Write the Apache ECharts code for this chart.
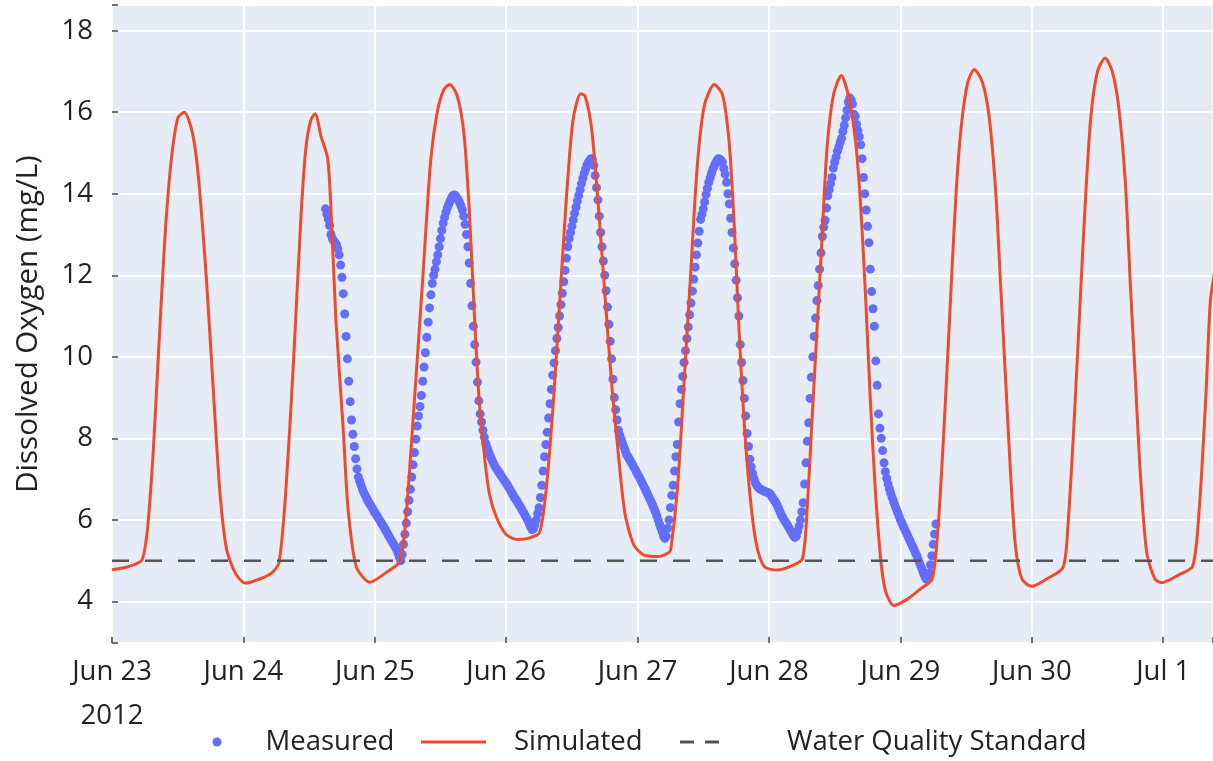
<!DOCTYPE html>
<html>
<head>
<meta charset="utf-8">
<script src="https://cdn.jsdelivr.net/npm/echarts@6.0.0/dist/echarts.min.js"></script>
<style>
  html, body { margin: 0; padding: 0; background: #fff; }
  #chart { width: 1213px; height: 761px; }
</style>
</head>
<body>
<div id="chart"></div>
<script>
// x axis is hours after Jun 23 2012 00:00
const dayLabels = ["Jun 23", "Jun 24", "Jun 25", "Jun 26", "Jun 27", "Jun 28", "Jun 29", "Jun 30", "Jul 1"];
const yearLabel = "2012";
const xMaxHour = 201.1;

// simulated DO
const simHours = [
  0, 2, 4, 5.5, 6.5, 7.5, 8.3, 9.1, 9.8, 10.8, 12, 13.2, 14.5, 15.3, 16, 17.2, 18.5, 19.7, 20.9, 22.5,
  24.3, 27, 29.2, 30.5, 31.7, 33.2, 34.5, 35.4, 36.3, 37.1, 38.2, 39.4, 40, 40.9, 42.2, 43.1, 44.6, 47.1,
  50, 52.5, 53.6, 55.2, 56.7, 58.2, 59.4, 60.6, 61.7, 63.1, 64.3, 65.3, 66.2, 67.1, 68, 68.9, 70.2,
  72, 74.1, 76.3, 78.1, 79.3, 80.6, 81.8, 83, 84.2, 85.6, 86.4, 87.6, 88.8, 90.1, 91.3, 92.5, 93.7, 95.3,
  97.1, 99.6, 101.7, 102.1, 103.3, 104.5, 105.7, 106.9, 108.2, 110, 111.5, 112.7, 113.6, 114.5, 115.4,
  116.4, 117.6, 119.1, 121.5, 123.9, 126.1, 127, 127.9, 128.8, 129.7, 130.6, 131.8, 133.2, 134.6, 135.8,
  136.7, 137.6, 138.5, 139.4, 140.4, 141.3, 142.8, 145.2, 147.6, 149.8, 150.9, 152.1, 153.3, 154.2,
  155.1, 156.3, 157.5, 159, 160.2, 161.4, 162.3, 163.2, 164.1, 165, 166.2, 168, 170.7, 173.7, 174.6,
  175.8, 177, 177.9, 178.8, 180, 181.4, 182.7, 183.9, 185.1, 186, 186.9, 187.8, 189, 190.5, 191.7,
  194.7, 197.4, 198.6, 199.8, 200.6, 201.4
];
const simValues = [
  4.78, 4.82, 4.9, 5.02, 5.8, 7.6, 9.6, 11.6, 13.2, 14.8, 15.85, 16.0, 15.6, 15.0, 14.1, 12.0, 9.2, 6.7, 5.3, 4.7,
  4.45, 4.55, 4.7, 4.95, 6.6, 10.0, 13.4, 15.1, 15.8, 15.96, 15.4, 14.86, 13.6, 10.9, 8.3, 6.3, 4.86, 4.47,
  4.7, 4.97, 5.9, 8.86, 11.8, 14.8, 16.0, 16.55, 16.68, 16.38, 15.45, 13.5, 11.0, 8.86, 7.6, 6.66, 6.07,
  5.64, 5.52, 5.56, 5.69, 6.74, 8.86, 11.4, 13.9, 15.8, 16.45, 16.4, 15.6, 13.76, 11.4, 9.28, 7.59, 6.15, 5.39,
  5.14, 5.1, 5.2, 5.3, 6.8, 9.4, 12.05, 14.68, 16.17, 16.68, 16.44, 15.3, 13.37, 10.74, 8.54,
  6.79, 5.47, 4.86, 4.77, 4.86, 5.04, 6.35, 8.54, 10.74, 12.93, 15.12, 16.44, 16.9, 16.35, 15.3,
  13.8, 11.6, 8.98, 6.79, 5.04, 4.25, 3.9, 4.05, 4.3, 4.55, 5.84, 8.58, 11.79, 14.08,
  15.63, 16.73, 17.05, 16.73, 15.9, 14.08, 11.79, 9.5, 7.2, 5.38, 4.55, 4.37, 4.55, 4.83, 5.84,
  8.58, 11.79, 14.08, 15.9, 17.0, 17.33, 17.0, 16.1, 14.26, 11.79, 9.5, 7.2, 5.19, 4.55, 4.46,
  4.64, 4.87, 6.29, 9.04, 11.33, 12.1
];

// measured DO, logged every 15 min from Jun 24 15:00
const measuredStartHour = 39;
const measuredStepHours = 0.25;
const measuredValues = [
  13.63, 13.5, 13.38, 13.22, 13.0, 12.9, 12.85, 12.8, 12.75, 12.65, 12.5, 12.25,
  11.95, 11.55, 11.05, 10.5, 9.95, 9.4, 8.9, 8.45, 8.1, 7.8, 7.5, 7.25,
  7.05, 6.95, 6.85, 6.75, 6.67, 6.6, 6.53, 6.47, 6.41, 6.36, 6.3, 6.24,
  6.18, 6.13, 6.08, 6.02, 5.97, 5.91, 5.86, 5.8, 5.74, 5.68, 5.62, 5.56,
  5.5, 5.45, 5.39, 5.33, 5.27, 5.18, 5.08, 5.0, 5.15, 5.4, 5.65, 5.92,
  6.2, 6.48, 6.75, 7.05, 7.35, 7.65, 7.98, 8.3, 8.55, 8.78, 9.05, 9.4,
  9.75, 10.1, 10.48, 10.85, 11.2, 11.52, 11.8, 12.0, 12.15, 12.33, 12.5, 12.7,
  12.9, 13.1, 13.28, 13.42, 13.55, 13.65, 13.74, 13.82, 13.9, 13.95, 13.97, 13.95,
  13.9, 13.85, 13.78, 13.7, 13.6, 13.45, 13.25, 13.0, 12.7, 12.3, 11.8, 11.25,
  10.75, 10.3, 9.87, 9.38, 8.92, 8.6, 8.4, 8.2, 8.03, 7.88, 7.78, 7.68,
  7.6, 7.52, 7.44, 7.37, 7.3, 7.25, 7.2, 7.15, 7.1, 7.05, 7.0, 6.95,
  6.9, 6.85, 6.79, 6.73, 6.67, 6.61, 6.55, 6.5, 6.45, 6.39, 6.34, 6.28,
  6.22, 6.16, 6.1, 6.04, 5.97, 5.9, 5.82, 5.76, 5.78, 5.88, 6.0, 6.15,
  6.3, 6.55, 6.85, 7.2, 7.55, 7.85, 8.15, 8.5, 8.85, 9.2, 9.55, 9.85,
  10.15, 10.45, 10.72, 11.0, 11.28, 11.56, 11.84, 12.12, 12.42, 12.7, 12.9, 13.05,
  13.2, 13.36, 13.52, 13.67, 13.82, 13.96, 14.1, 14.25, 14.38, 14.5, 14.6, 14.7,
  14.77, 14.82, 14.86, 14.85, 14.7, 14.45, 14.15, 13.85, 13.45, 13.05, 12.7, 12.35,
  12.0, 11.62, 11.22, 10.8, 10.38, 9.95, 9.45, 9.0, 8.7, 8.45, 8.2, 8.08,
  7.98, 7.88, 7.79, 7.7, 7.6, 7.55, 7.49, 7.43, 7.37, 7.31, 7.25, 7.18,
  7.12, 7.06, 7.0, 6.93, 6.86, 6.79, 6.72, 6.65, 6.58, 6.51, 6.44, 6.36,
  6.28, 6.2, 6.1, 6.0, 5.9, 5.8, 5.7, 5.6, 5.55, 5.6, 5.8, 6.0,
  6.3, 6.6, 6.85, 7.2, 7.55, 7.85, 8.4, 8.85, 9.2, 9.52, 9.86, 10.15,
  10.45, 10.73, 11.03, 11.32, 11.61, 11.9, 12.2, 12.5, 12.79, 13.08, 13.37, 13.5,
  13.63, 13.8, 13.98, 14.13, 14.28, 14.39, 14.5, 14.6, 14.68, 14.75, 14.82, 14.86,
  14.85, 14.82, 14.77, 14.62, 14.48, 14.28, 14.0, 13.75, 13.4, 13.05, 12.67, 12.28,
  11.88, 11.45, 11.0, 10.3, 9.86, 9.42, 8.98, 8.55, 8.12, 7.8, 7.49, 7.3,
  7.14, 7.02, 6.92, 6.85, 6.8, 6.77, 6.75, 6.73, 6.71, 6.7, 6.68, 6.67,
  6.66, 6.63, 6.58, 6.52, 6.47, 6.43, 6.36, 6.28, 6.2, 6.12, 6.06, 6.0,
  5.95, 5.9, 5.84, 5.78, 5.72, 5.67, 5.61, 5.57, 5.6, 5.72, 5.85, 6.0,
  6.2, 6.42, 6.88, 7.4, 7.93, 8.38, 8.98, 9.5, 10.0, 10.5, 10.95, 11.38,
  11.75, 12.15, 12.55, 12.95, 13.18, 13.35, 13.65, 13.95, 14.1, 14.25, 14.4, 14.63,
  14.78, 14.9, 15.04, 15.15, 15.26, 15.36, 15.53, 15.68, 15.86, 16.05, 16.25, 16.35,
  16.3, 16.2, 15.95, 15.9, 15.7, 15.55, 15.4, 15.2, 14.86, 14.4, 14.0, 13.6,
  13.2, 12.8, 12.15, 11.6, 11.18, 10.75, 9.9, 9.3, 8.6, 8.25, 8.0, 7.7,
  7.4, 7.18, 7.02, 6.88, 6.76, 6.65, 6.55, 6.45, 6.36, 6.27, 6.18, 6.09,
  6.0, 5.93, 5.85, 5.78, 5.71, 5.64, 5.56, 5.49, 5.41, 5.34, 5.27, 5.19,
  5.12, 5.03, 4.94, 4.86, 4.77, 4.68, 4.6, 4.55, 4.55, 4.7, 4.9, 5.12,
  5.4, 5.65, 5.9
];

const standardValue = 5;

const fontFamily = "Open Sans";
const textColor = "#222";
const fontSize = 27.5;

let chartDiv = document.getElementById("chart");
let chart = echarts.init(chartDiv, null, { renderer: "canvas" });

let legendText = (padLeft) => ({
  fontSize: fontSize,
  color: textColor,
  fontFamily: fontFamily,
  lineHeight: 34,
  padding: [0, 0, 0, padLeft],
});

let option = {
  animation: false,
  textStyle: { fontFamily: fontFamily },
  grid: {
    left: 112,
    right: 0,
    top: 5,
    bottom: 118,
    outerBoundsMode: "none",
    backgroundColor: "#E5ECF6",
    show: true,
    borderWidth: 0,
  },
  legend: [
    {
      data: [{ name: "Measured", icon: "circle" }],
      left: 212.5,
      top: 725,
      padding: 0,
      itemWidth: 9,
      itemHeight: 9,
      textStyle: legendText(39),
    },
    {
      data: [{ name: "Simulated", icon: "rect" }],
      left: 421,
      top: 725,
      padding: 0,
      itemWidth: 65,
      itemHeight: 3,
      textStyle: legendText(23),
    },
    {
      data: [{ name: "Water Quality Standard", icon: "path://M0,0H14V3H0Z M25,0H39V3H25Z" }],
      left: 680,
      top: 725,
      padding: 0,
      itemWidth: 39,
      itemHeight: 3,
      textStyle: legendText(63),
    },
  ],
  xAxis: {
    type: "value",
    min: 0,
    max: xMaxHour,
    interval: 24,
    axisLine: { show: false },
    axisTick: { show: true, inside: true, length: 6, lineStyle: { color: "#444", width: 1.5 } },
    splitLine: { show: true, lineStyle: { color: "#fff", width: 2 } },
    axisLabel: {
      fontSize: fontSize,
      color: textColor,
      fontFamily: fontFamily,
      lineHeight: 44,
      margin: 7,
      formatter: (v) => {
        if (Math.abs(v % 24) > 1e-6) return "";
        let i = Math.round(v / 24);
        return i === 0 ? dayLabels[0] + "\n" + yearLabel : dayLabels[i];
      },
    },
  },
  yAxis: {
    type: "value",
    min: 2.98,
    max: 18.63,
    splitNumber: 8,
    name: "Dissolved Oxygen (mg/L)",
    nameLocation: "middle",
    nameGap: 68,
    nameTextStyle: { fontSize: 29.5, color: textColor, fontFamily: fontFamily },
    axisLine: { show: false },
    axisTick: { show: true, inside: true, length: 6, lineStyle: { color: "#444", width: 1.5 } },
    splitLine: { show: true, lineStyle: { color: "#fff", width: 2 } },
    axisLabel: {
      fontSize: fontSize,
      color: textColor,
      fontFamily: fontFamily,
      margin: 19,
      formatter: (v) => {
        let r = Math.round(v);
        return Math.abs(v - r) < 1e-6 && r % 2 === 0 ? String(r) : "";
      },
    },
  },
  series: [
    {
      name: "Measured",
      type: "scatter",
      z: 2,
      symbol: "circle",
      symbolSize: 9,
      itemStyle: { color: "#636EFA", opacity: 1 },
      data: measuredValues.map((v, i) => [measuredStartHour + i * measuredStepHours, v]),
    },
    {
      name: "Simulated",
      type: "line",
      z: 3,
      symbol: "none",
      showSymbol: false,
      smooth: 0.25,
      lineStyle: { color: "#F04A2D", width: 3 },
      itemStyle: { color: "#F04A2D" },
      data: simHours.map((h, i) => [h, simValues[i]]),
    },
    {
      name: "Water Quality Standard",
      type: "line",
      z: 4,
      symbol: "none",
      showSymbol: false,
      lineStyle: { color: "#555", width: 2.5, type: [17, 16] },
      itemStyle: { color: "#555" },
      data: [
        [0, standardValue],
        [xMaxHour, standardValue],
      ],
    },
  ],
};

chart.setOption(option);
window.onresize = () => {
  chart.resize();
};
</script>
</body>
</html>
